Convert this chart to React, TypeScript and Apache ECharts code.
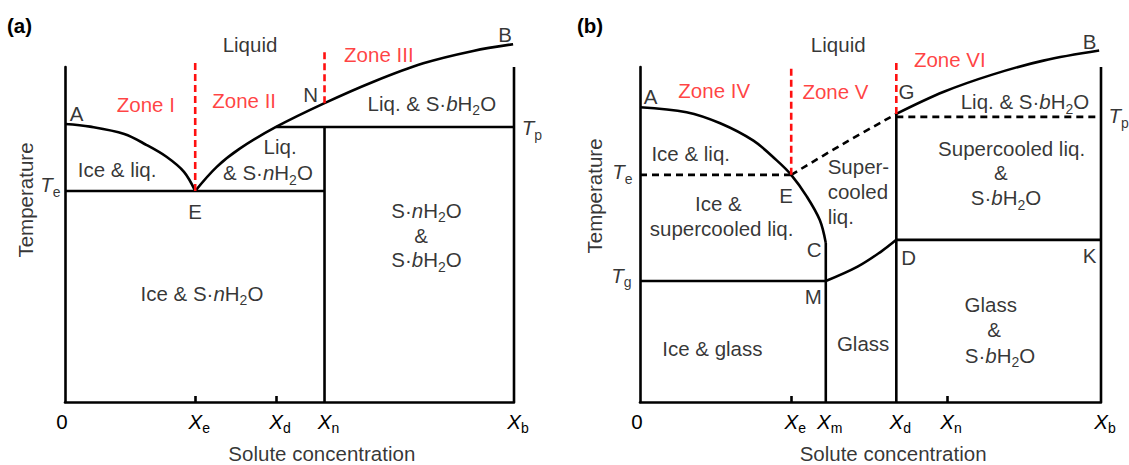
import React, { useEffect, useRef } from 'react';
import * as echarts from 'echarts';

const FONT = 'Arial, "Liberation Sans", Helvetica, sans-serif';
const INK = '#000000';
const RED = '#ff1010';
const FS = 20.5;

// ---------- Panel (a) ----------
const A_XE = 29;
const A_XD = 47;
const A_XN = 57.8;
const A_TE = 63;
const A_TP = 82.1;
const A_N_Y = 89.2;
const aTickValues = [0, A_XE, A_XD, A_XN, 100];
const aTickNames = ['0', 'e', 'd', 'n', 'b'];
const aIceLiquidus = [[0, 83], [5.6, 82.2], [13.2, 80], [18.2, 76.7], [22.6, 73.2], [26.5, 68.7], [29, 63]];
const aSoluteLiquidus = [[29, 63], [33.8, 70.2], [39, 75.7], [47, 82.1], [57.8, 89.2], [68.7, 95.6], [79.8, 101.1], [90.9, 104.8], [99.8, 106.8]];

// ---------- Panel (b) ----------
const B_XE = 32.8;
const B_XM = 40.3;
const B_XD = 55.6;
const B_XN = 66.6;
const B_TE = 67.8;
const B_TG = 36.1;
const B_TP = 85.1;
const B_TK = 48.4;
const B_G_Y = 86.0;
const B_C_Y = 47.5;
const bTickValues = [0, B_XE, B_XM, B_XD, B_XN, 100];
const bTickNames = ['0', 'e', 'm', 'd', 'n', 'b'];
const bIceLiquidus = [[0, 88], [10.1, 86.5], [17.4, 83.2], [24.6, 78], [29.6, 72.2], [32.8, 67.8], [36.2, 61.3], [39, 54.3], [40.3, 47.5]];
const bGlassCurve = [[40.3, 36.1], [47.2, 40.4], [52.3, 44.9], [55.6, 48.4]];
const bMetastable = [[32.8, 67.8], [44, 77], [55.6, 86]];
const bSoluteLiquidus = [[55.6, 86], [65.9, 92.6], [76.6, 97.8], [87.5, 101.9], [99.6, 104.9]];

type Lbl = { t: string; x: number; y: number; red?: boolean; pos?: string; rot?: number; lh?: number };

const labelsA: Lbl[] = [
  { t: 'Liquid', x: 41.2, y: 106.6 },
  { t: 'Zone I', x: 18.0, y: 88.7, red: true },
  { t: 'Zone II', x: 39.9, y: 90.1, red: true },
  { t: 'Zone III', x: 69.9, y: 103.8, red: true },
  { t: 'A', x: 2.6, y: 86.0 },
  { t: 'N', x: 54.7, y: 91.9 },
  { t: 'B', x: 98.0, y: 109.6 },
  { t: 'Ice & liq.', x: 11.6, y: 69.3 },
  { t: 'Liq.', x: 47.9, y: 76.2 },
  { t: '& S·{i|n}H{s|2}O', x: 45.2, y: 68.4 },
  { t: 'Liq. & S·{i|b}H{s|2}O', x: 81.7, y: 89.2 },
  { t: 'E', x: 29.0, y: 56.8 },
  { t: 'S·{i|n}H{s|2}O', x: 80.5, y: 57.3 },
  { t: '&', x: 79.3, y: 49.6 },
  { t: 'S·{i|b}H{s|2}O', x: 80.5, y: 42.4 },
  { t: 'Ice & S·{i|n}H{s|2}O', x: 30.5, y: 32.5 },
  { t: '{i|T}{s|e}', x: -0.9, y: 64.8, pos: 'left' },
  { t: '{i|T}{s|p}', x: 101.6, y: 81.8, pos: 'right' },
  { t: 'Temperature', x: -8.9, y: 60.3, rot: 90 },
  { t: 'Solute concentration', x: 57.2, y: -15.4, lh: 18 },
];

const labelsB: Lbl[] = [
  { t: 'Liquid', x: 43.0, y: 106.6 },
  { t: 'Zone IV', x: 16.1, y: 93.1, red: true },
  { t: 'Zone V', x: 42.4, y: 92.6, red: true },
  { t: 'Zone VI', x: 67.2, y: 102.1, red: true },
  { t: 'A', x: 2.3, y: 91.3 },
  { t: 'G', x: 57.8, y: 92.8 },
  { t: 'B', x: 97.5, y: 107.6 },
  { t: 'Liq. & S·{i|b}H{s|2}O', x: 83.5, y: 89.6 },
  { t: 'Ice & liq.', x: 11.0, y: 74.2 },
  { t: 'E', x: 31.7, y: 61.5 },
  { t: 'Ice &', x: 17.0, y: 59.3 },
  { t: 'supercooled liq.', x: 17.7, y: 51.8 },
  { t: 'Super-', x: 40.6, y: 70.2, pos: 'right' },
  { t: 'cooled', x: 40.6, y: 62.8, pos: 'right' },
  { t: 'liq.', x: 40.6, y: 55.3, pos: 'right' },
  { t: 'C', x: 37.8, y: 45.6 },
  { t: 'D', x: 58.3, y: 43.1 },
  { t: 'K', x: 97.5, y: 43.6 },
  { t: 'M', x: 37.6, y: 31.6 },
  { t: 'Supercooled liq.', x: 80.6, y: 75.8 },
  { t: '&', x: 78.3, y: 68.4 },
  { t: 'S·{i|b}H{s|2}O', x: 79.4, y: 60.9 },
  { t: 'Ice & glass', x: 15.7, y: 16.0 },
  { t: 'Glass', x: 48.4, y: 17.5 },
  { t: 'Glass', x: 76.1, y: 29.0 },
  { t: '&', x: 76.8, y: 21.5 },
  { t: 'S·{i|b}H{s|2}O', x: 78.1, y: 14.0 },
  { t: '{i|T}{s|e}', x: -1.5, y: 68.7, pos: 'left' },
  { t: '{i|T}{s|g}', x: -1.7, y: 37.9, pos: 'left' },
  { t: '{i|T}{s|p}', x: 101.5, y: 85.4, pos: 'right' },
  { t: 'Temperature', x: -9.8, y: 61.5, rot: 90 },
  { t: 'Solute concentration', x: 54.9, y: -15.4, lh: 18 },
];

const rich: any = {
  i: { fontStyle: 'italic', fontSize: FS, lineHeight: 24, fontFamily: FONT },
  s: { fontSize: 14, lineHeight: 14, padding: [14, 0, 0, 0], fontFamily: FONT },
  x: { fontStyle: 'italic', fontSize: FS, lineHeight: 24, fontFamily: FONT, padding: [0, 0, 0, 8] },
  z: { fontSize: FS, lineHeight: 24, fontFamily: FONT, padding: [0, 6, 0, 0] },
};

const BLACK_W = 2.6;

function seg(data: number[][], gi: number, opts: any = {}) {
  return {
    type: 'line',
    xAxisIndex: gi,
    yAxisIndex: gi,
    data,
    symbol: 'none',
    clip: false,
    silent: true,
    smooth: opts.smooth ?? false,
    z: opts.z ?? 3,
    lineStyle: { color: opts.color ?? INK, width: opts.width ?? BLACK_W, type: opts.type ?? 'solid', cap: 'butt' },
  };
}

function labelSeries(list: Lbl[], gi: number) {
  return {
    type: 'scatter',
    xAxisIndex: gi,
    yAxisIndex: gi,
    symbolSize: 1,
    clip: false,
    silent: true,
    z: 10,
    itemStyle: { color: 'rgba(0,0,0,0)' },
    data: list.map((l) => ({
      value: [l.x, l.y],
      label: {
        show: true,
        formatter: () => l.t,
        position: (l.pos as any) ?? 'inside',
        distance: 0,
        rotate: l.rot ?? 0,
        color: l.red ? RED : INK,
        fontSize: FS,
        lineHeight: l.lh ?? 24,
        fontFamily: FONT,
        rich,
      },
    })),
  };
}

function tickFormatter(values: number[], names: string[]) {
  return (v: number) => {
    let idx = 0;
    let best = Infinity;
    values.forEach((tv, i) => {
      const d = Math.abs(tv - v);
      if (d < best) { best = d; idx = i; }
    });
    const n = names[idx];
    return n === '0' ? '{z|0}' : `{x|X}{s|${n}}`;
  };
}

function xAxisCfg(gi: number, ticks: number[], tickValues: number[], names: string[]) {
  return {
    gridIndex: gi,
    type: 'value',
    min: 0,
    max: 100,
    axisLine: { show: true, onZero: false, lineStyle: { color: INK, width: BLACK_W } },
    axisTick: { show: true, inside: true, length: 6, customValues: ticks, lineStyle: { color: INK, width: BLACK_W } },
    axisLabel: {
      show: true,
      customValues: tickValues,
      showMinLabel: true,
      showMaxLabel: true,
      margin: 7,
      color: INK,
      fontFamily: FONT,
      fontSize: FS,
      formatter: tickFormatter(tickValues, names),
      rich,
    },
    splitLine: { show: false },
  };
}

function yAxisCfg(gi: number) {
  return {
    gridIndex: gi,
    type: 'value',
    min: 0,
    max: 100,
    axisLine: { show: true, onZero: false, lineStyle: { color: INK, width: BLACK_W } },
    axisTick: { show: false },
    axisLabel: { show: false },
    splitLine: { show: false },
  };
}

const option: any = {
  animation: false,
  backgroundColor: '#ffffff',
  textStyle: { fontFamily: FONT },
  grid: [
    { left: 65, right: 615, top: 67, bottom: 63, containLabel: false },
    { left: 640, right: 28, top: 67, bottom: 63, containLabel: false },
  ],
  xAxis: [
    xAxisCfg(0, [A_XE, A_XD], aTickValues, aTickNames),
    xAxisCfg(1, [B_XE, B_XN], bTickValues, bTickNames),
  ],
  yAxis: [yAxisCfg(0), yAxisCfg(1)],
  graphic: [
    { type: 'text', x: 7, y: 25, style: { text: '(a)', font: `bold ${FS}px ${FONT}`, fill: '#000', verticalAlign: 'middle' } },
    { type: 'text', x: 577, y: 25, style: { text: '(b)', font: `bold ${FS}px ${FONT}`, fill: '#000', verticalAlign: 'middle' } },
  ],
  series: [
    // panel (a)
    seg([[100, 0], [100, 100]], 0),
    seg(aIceLiquidus, 0, { smooth: 0.35 }),
    seg(aSoluteLiquidus, 0, { smooth: 0.35 }),
    seg([[0, A_TE], [A_XN, A_TE]], 0),
    seg([[A_XD, A_TP], [100, A_TP]], 0),
    seg([[A_XN, 0], [A_XN, A_TP]], 0),
    seg([[A_XE, A_TE], [A_XE, 101.8]], 0, { color: RED, type: [7, 4], z: 4 }),
    seg([[A_XN, A_N_Y], [A_XN, 104.5]], 0, { color: RED, type: [7, 4], z: 4 }),
    labelSeries(labelsA, 0),
    // panel (b)
    seg([[100, 0], [100, 100]], 1),
    seg(bIceLiquidus, 1, { smooth: 0.35 }),
    seg([[B_XM, B_C_Y], [B_XM, 0]], 1),
    seg([[0, B_TE], [B_XE, B_TE]], 1, { type: [7, 5] }),
    seg([[0, B_TG], [B_XM, B_TG]], 1),
    seg(bGlassCurve, 1, { smooth: 0.35 }),
    seg([[B_XD, B_TK], [100, B_TK]], 1),
    seg([[B_XD, 0], [B_XD, B_G_Y]], 1),
    seg(bMetastable, 1, { smooth: 0.35, type: [7, 5] }),
    seg(bSoluteLiquidus, 1, { smooth: 0.35 }),
    seg([[B_XD, B_TP], [100, B_TP]], 1, { type: [7, 5] }),
    seg([[B_XE, B_TE], [B_XE, 99.7]], 1, { color: RED, type: [7, 4], z: 4 }),
    seg([[B_XD, B_G_Y], [B_XD, 101.2]], 1, { color: RED, type: [7, 4], z: 4 }),
    labelSeries(labelsB, 1),
  ],
};

export default function App() {
  const ref = useRef<HTMLDivElement>(null);
  useEffect(() => {
    document.body.style.margin = '0';
    const chart = echarts.init(ref.current!, null, { renderer: 'svg' });
    chart.setOption(option);
    return () => chart.dispose();
  }, []);
  return <div ref={ref} style={{ width: 1129, height: 465, background: '#fff' }} />;
}
